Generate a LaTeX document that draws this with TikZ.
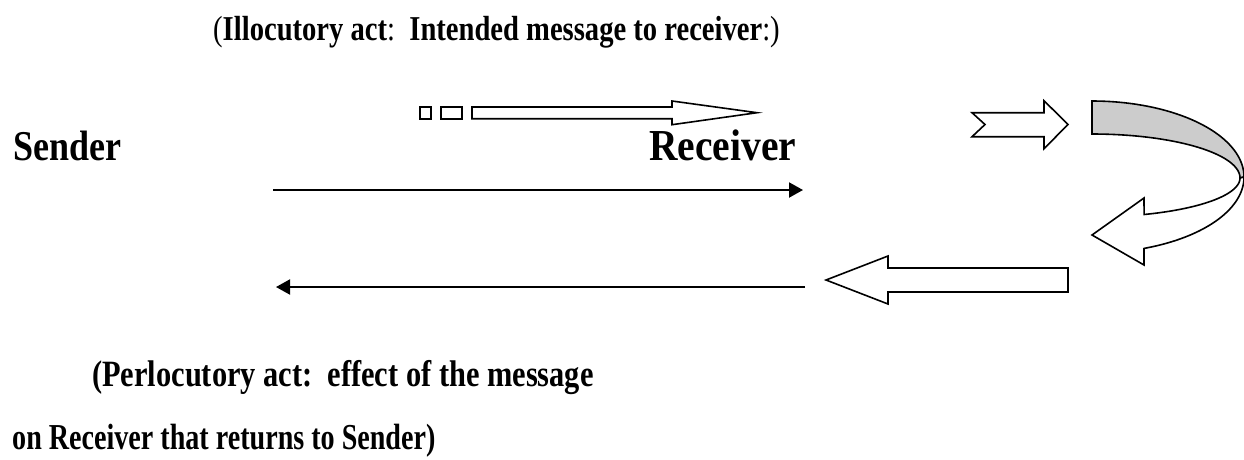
\documentclass[tikz,border=0pt]{standalone}
\usepackage{fontspec}
\setmainfont{Liberation Serif}
\usetikzlibrary{arrows.meta}

\definecolor{bandgrey}{RGB}{204,204,204}

\tikzset{
  lbl/.style={inner sep=0pt, anchor=base west, font=\bfseries},
  blockarrow/.style={draw=black, line width=1.6pt, fill=white, line join=miter},
  msgline/.style={line width=2pt, -{Triangle[length=14pt,width=15pt]}},
}

\newcommand{\tallbox}[2]{\scalebox{1}[#1]{#2}}

\begin{document}
\begin{tikzpicture}[x=1pt,y=-1pt]
\useasboundingbox (0,0) rectangle (1244,459);

% headings
\node[lbl] (illoc) at (213,40)
  {\fontsize{28.6}{30}\selectfont\tallbox{1.22}{{\mdseries(}Illocutory act{\mdseries:}\ \ Intended message to receiver{\mdseries:)}}};

\node[lbl] (sender) at (13,160)
  {\fontsize{36}{38}\selectfont\tallbox{1.18}{Sender}};
\node[lbl] (receiver) at (649,160)
  {\fontsize{39.5}{40}\selectfont\tallbox{1.12}{Receiver}};

\node[lbl] (perlA) at (92,386)
  {\fontsize{30.4}{32}\selectfont\tallbox{1.22}{(Perlocutory act:\ \ effect of the message}};
\node[lbl] (perlB) at (12,449)
  {\fontsize{28.1}{30}\selectfont\tallbox{1.3}{on Receiver that returns to Sender)}};

% plain message lines
\coordinate (fwdA) at (273,190);
\coordinate (fwdB) at (803,190);
\coordinate (backA) at (805,287);
\coordinate (backB) at (276,287);
\draw[msgline] (fwdA) -- (fwdB);
\draw[msgline] (backA) -- (backB);

% striped arrow above the forward line
\draw[blockarrow] (420,107) rectangle (431,118.7);
\draw[blockarrow] (441,107) rectangle (462,118.7);
\draw[blockarrow] (472,107) -- (672,107) -- (672,101) -- (757,112.7)
  -- (672,124.7) -- (672,118.7) -- (472,118.7) -- cycle;

% notched arrow
\draw[blockarrow] (972,112.7) -- (1044,112.7) -- (1044,100.7) -- (1068,124.5)
  -- (1044,148.7) -- (1044,136.7) -- (972,136.7) -- (985,124.5) -- cycle;

% curved turning arrow: back face
\draw[blockarrow, fill=bandgrey]
  plot[domain=-90:0, samples=60] ({1092+152*cos(\x)}, {177+76*sin(\x)})
  -- plot[domain=0:-90, samples=60] ({1092+148*cos(\x)}, {178+44*sin(\x)})
  -- cycle;

% curved turning arrow: front face with head
\draw[blockarrow]
  plot[domain=0:69.4, samples=60] ({1092+148*cos(\x)}, {178+39*sin(\x)})
  -- (1144,198) -- (1092,235) -- (1144,265) -- (1144,248)
  -- plot[domain=70:0, samples=60] ({1092+152*cos(\x)}, {177+76*sin(\x)})
  -- cycle;

% return block arrow
\draw[blockarrow] (1068,268) -- (888,268) -- (888,256) -- (826,280)
  -- (888,304) -- (888,292) -- (1068,292) -- cycle;
\end{tikzpicture}
\end{document}
